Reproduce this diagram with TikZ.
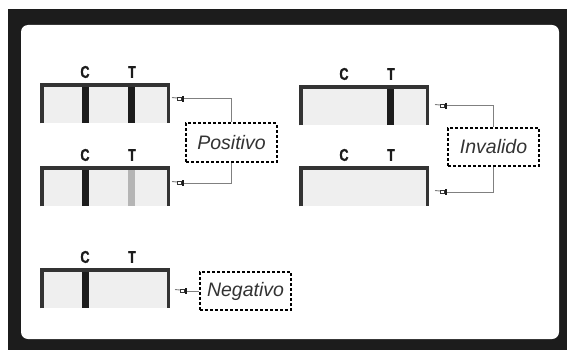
\documentclass[tikz,border=0pt]{standalone}
\usepackage{fontspec}
\setmainfont{Liberation Sans}
\newfontfamily\condfont[FakeStretch=0.74,FakeBold=1.2]{Liberation Sans Bold}
\usetikzlibrary{positioning,calc}
\definecolor{frameblack}{HTML}{1C1C1C}
\definecolor{stripgrey}{HTML}{EFEFEF}
\definecolor{edgegrey}{HTML}{333333}
\definecolor{faintband}{HTML}{B5B5B5}
\definecolor{linkgrey}{HTML}{808080}
\definecolor{textgrey}{HTML}{333333}

\tikzset{
  strip/.style={fill=stripgrey, draw=none, minimum width=126pt, minimum height=38pt,
    inner sep=0pt, anchor=north west},
  stripedge/.style={draw=edgegrey, line width=3.8pt, line join=miter},
  band/.style={fill=frameblack, draw=none, minimum width=7pt, minimum height=38pt,
    inner sep=0pt, anchor=north},
  letter/.style={font=\condfont\fontsize{17}{17}\selectfont, text=frameblack, inner sep=0pt},
  result/.style={draw=black, line width=2pt, dash pattern=on 3pt off 2pt,
    minimum width=91pt, minimum height=38pt, inner sep=0pt,
    font=\itshape\fontsize{19.5}{19.5}\selectfont, text=textgrey},
  link/.style={draw=linkgrey, line width=1pt},
  fingerptr/.pic={
    \draw[linkgrey, line width=0.9pt] (-12,-1.5) -- (-7,-1);
    \draw[edgegrey, line width=0.8pt] (-7,-2) rectangle (-2.5,1.5);
    \draw[frameblack, line width=1.6pt] (-1,-3) -- (-1,3);
  }
}

\begin{document}
\begin{tikzpicture}[x=1pt,y=-1pt]
  \useasboundingbox (0,0) rectangle (567,350);
  % frame
  \fill[frameblack] (8,9) rectangle (567,350);
  \fill[white, rounded corners=7pt] (21,25) rectangle (559,339);

  % strips
  \node[strip] (s1) at (42,85) {};
  \node[strip] (s2) at (42,168) {};
  \node[strip] (s3) at (301,87) {};
  \node[strip] (s4) at (301,168) {};
  \node[strip] (s5) at (42,270) {};

  \node[band] at ($(s1.north west)+(43,0)$) {};
  \node[band] at ($(s1.north west)+(89,0)$) {};
  \node[band] at ($(s2.north west)+(43,0)$) {};
  \node[band, fill=faintband] at ($(s2.north west)+(89,0)$) {};
  \node[band] at ($(s3.north west)+(89,0)$) {};
  \node[band] at ($(s5.north west)+(43,0)$) {};

  \foreach \s in {s1,s2,s3,s4,s5} {
    \draw[stripedge] (\s.south west) -- (\s.north west) -- (\s.north east) -- (\s.south east);
    \node[letter] at ($(\s.north west)+(43,-13)$) {C};
    \node[letter] at ($(\s.north west)+(90,-13)$) {T};
  }

  % results
  \node[result] (pos) at (231.5,142.5) {Positivo};
  \node[result] (inv) at (493.5,147) {Invalido};
  \node[result] (neg) at (245.5,291) {Negativo};

  \coordinate (p1) at (184,99);
  \coordinate (p2) at (184,183);
  \coordinate (p3) at (447,106);
  \coordinate (p4) at (447,192);
  \coordinate (p5) at (187,291);
  \foreach \p in {p1,p2,p3,p4,p5}
    \pic at (\p) {fingerptr};

  \draw[link] (p1) -| (pos.north);
  \draw[link] (pos.south) |- (p2);
  \draw[link] (p3) -| (inv.north);
  \draw[link] (inv.south) |- (p4);
  \draw[link] (p5) -- (neg.west);
\end{tikzpicture}
\end{document}
